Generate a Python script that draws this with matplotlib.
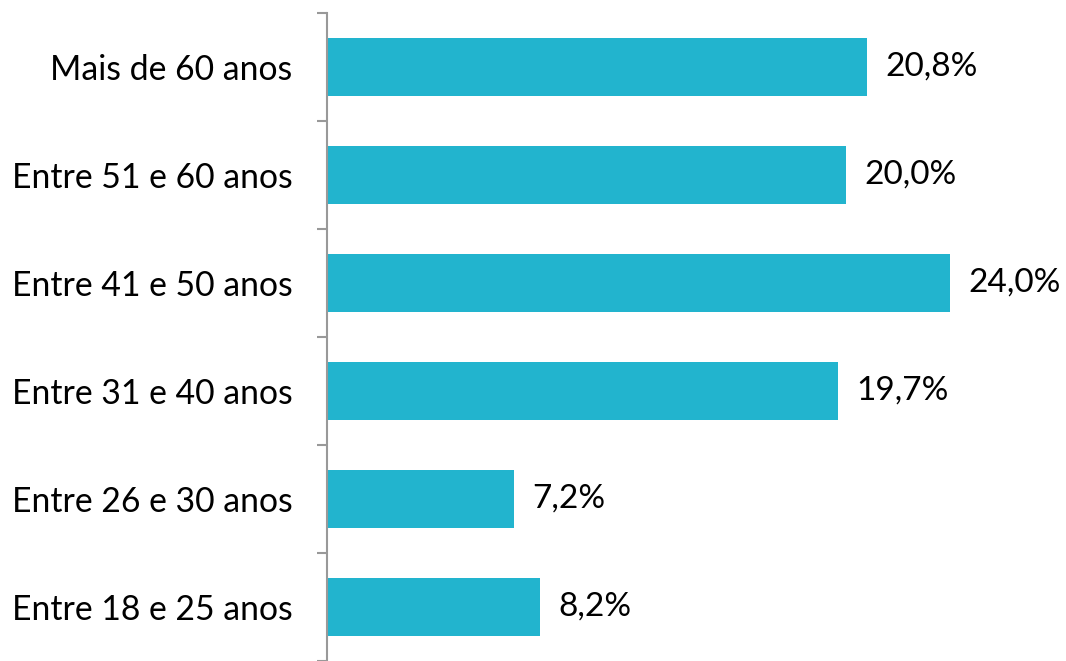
import matplotlib.pyplot as plt
from matplotlib.ticker import FixedLocator

plt.rcParams["font.family"] = ["Lato", "DejaVu Sans"]

categories = [
    "Entre 18 e 25 anos",
    "Entre 26 e 30 anos",
    "Entre 31 e 40 anos",
    "Entre 41 e 50 anos",
    "Entre 51 e 60 anos",
    "Mais de 60 anos",
]
values = [8.2, 7.2, 19.7, 24.0, 20.0, 20.8]

BAR_COLOR = "#22b4ce"
AXIS_COLOR = "#999999"

fig = plt.figure(figsize=(10.66, 6.61), dpi=100)
ax = fig.add_axes([327 / 1066, 0.0, 739 / 1066, 1 - 13 / 661])

positions = list(range(len(categories)))
ax.barh(positions, values, height=0.53, color=BAR_COLOR)

for pos, val in zip(positions, values):
    label = f"{val:.1f}%".replace(".", ",")
    ax.annotate(label, (val, pos), xytext=(13, 0), textcoords="offset points",
                va="center", ha="left", fontsize=24, color="black")

ax.set_xlim(0, 28.47)
ax.set_ylim(-0.5, len(categories) - 0.5)

ax.set_yticks(positions)
ax.set_yticklabels(categories, fontsize=24.3)
ax.tick_params(axis="y", which="major", length=0, pad=25)
ax.yaxis.set_minor_locator(FixedLocator([p - 0.5 for p in positions] + [len(categories) - 0.5]))
ax.tick_params(axis="y", which="minor", length=7.5, width=1.5, color=AXIS_COLOR, direction="out")

ax.set_xticks([])
for side in ("top", "right", "bottom"):
    ax.spines[side].set_visible(False)
ax.spines["left"].set_color(AXIS_COLOR)
ax.spines["left"].set_linewidth(1.5)

fig.savefig("out.png", dpi=100)
